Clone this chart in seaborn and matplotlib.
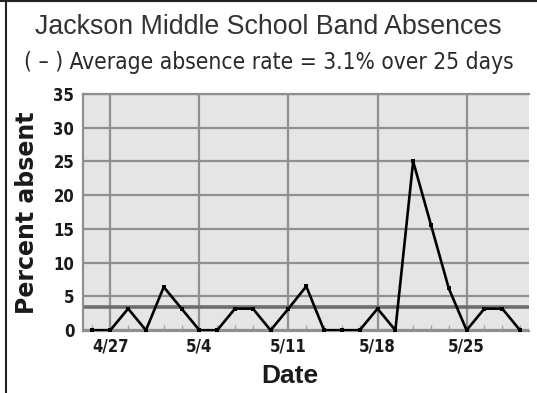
import pandas as pd
import matplotlib
matplotlib.use('Agg')
import matplotlib.pyplot as plt
import matplotlib.ticker as ticker
from matplotlib.lines import Line2D
import seaborn as sns

# school days, 4/24 through 5/28 (weekdays only)
days = ['4/24', '4/27', '4/28', '4/29', '4/30', '5/1',
        '5/4', '5/5', '5/6', '5/7', '5/8',
        '5/11', '5/12', '5/13', '5/14', '5/15',
        '5/18', '5/19', '5/20', '5/21', '5/22',
        '5/25', '5/26', '5/27', '5/28']
pct_absent = [0, 0, 3.2, 0, 6.4, 3.2,
              0, 0, 3.2, 3.2, 0,
              3.2, 6.5, 0, 0, 0,
              3.2, 0, 25.0, 15.6, 6.2,
              0, 3.2, 3.2, 0]
avg_line = 3.4
week_labels = ['4/27', '5/4', '5/11', '5/18', '5/25']
y_ticks = [0, 5, 10, 15, 20, 25, 30, 35]

sns.set_theme(style='white')
sns.set(
    rc={
        'axes.facecolor': '#e5e5e5',
        'figure.facecolor': '#ffffff',
        'grid.color': '#8f8f8f',
        'text.color': '#2a2a2a',
        'xtick.color': '#8f8f8f',
        'ytick.color': '#8f8f8f',
    }
)

df = pd.DataFrame({'day': range(len(days)), 'pct': pct_absent})

fig = plt.figure(figsize=(5.37, 3.93), dpi=100)
ax = fig.add_axes([0.154, 0.158, 0.831, 0.603])

ax.axhline(avg_line, color='#6e6e6e', lw=2.6, zorder=2)

sns.lineplot(data=df, x='day', y='pct', ax=ax, color='black', lw=1.9,
             marker='s', markersize=3.5, markeredgewidth=0, zorder=3)

ax.set_xlim(-0.55, 24.5)
ax.set_ylim(-0.1, 35)

major_idx = [days.index(d) for d in week_labels]
ax.xaxis.set_major_locator(ticker.FixedLocator(major_idx))
ax.xaxis.set_minor_locator(ticker.MultipleLocator(1))
ax.set_xticklabels(week_labels)
ax.set_yticks(y_ticks)

ax.grid(True, which='major', color='#8f8f8f', lw=1.6)
ax.tick_params(axis='x', which='minor', direction='in', length=4, width=1,
               color='#a0a0a0', bottom=True)
ax.tick_params(axis='x', which='major', length=0, pad=5)
ax.tick_params(axis='y', which='major', length=0, pad=6)

for lab in ax.get_xticklabels() + ax.get_yticklabels():
    lab.set_fontweight('bold')
    lab.set_fontsize(12)
    lab.set_color('#1a1a1a')
    lab.set_family(['DejaVu Sans'])
    lab.set_fontstretch('condensed')

for side in ['left', 'top', 'bottom']:
    ax.spines[side].set_color('#8f8f8f')
    ax.spines[side].set_linewidth(1.6)
ax.spines['right'].set_visible(False)

ax.set_xlabel('Date', fontsize=19, fontweight='bold', color='#1a1a1a',
              family=['Liberation Sans', 'DejaVu Sans'])
ax.xaxis.set_label_coords(0.465, -0.19)
ax.xaxis.label.set_va('center')
ax.set_ylabel('Percent absent', fontsize=17, fontweight='bold', color='#1a1a1a',
              family=['DejaVu Sans'])
ax.yaxis.set_label_coords(-0.125, 0.5)
ax.yaxis.label.set_va('center')

fig.text(0.5, 0.932, 'Jackson Middle School Band Absences', ha='center', va='center',
         fontsize=19.3, color='#333333', family=['Liberation Sans', 'DejaVu Sans'])
fig.text(0.5, 0.842, '( \u2013 ) Average absence rate = 3.1% over 25 days', ha='center', va='center',
         fontsize=16.3, color='#2a2a2a', family=['DejaVu Sans', 'Liberation Sans'],
         fontstretch='condensed')

# frame lines of the original box
fig.add_artist(Line2D([0, 1], [0.997, 0.997], transform=fig.transFigure, color='#222222', lw=1.5))
fig.add_artist(Line2D([0.012, 0.012], [0, 0.997], transform=fig.transFigure, color='#222222', lw=1.5))

fig.savefig('out.png', dpi=100)
